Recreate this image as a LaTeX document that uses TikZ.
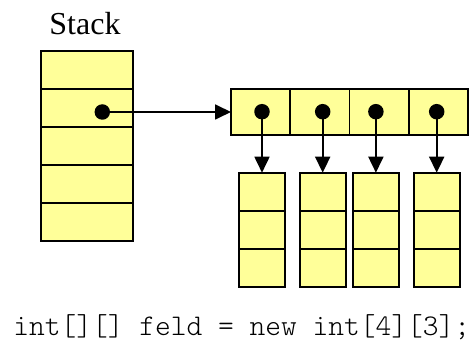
\documentclass[tikz,border=0pt]{standalone}
\usepackage{fontspec}
\setmainfont{Liberation Serif}
\newfontfamily\codefont{lmmonolt10-regular.otf}
\usetikzlibrary{arrows.meta}
\definecolor{cellfill}{HTML}{FFFF99}
\begin{document}
\begin{tikzpicture}[x=1pt,y=-1pt,
  cell/.style={draw=black,fill=cellfill,line width=1.8pt,inner sep=0pt,outer sep=0pt},
  stackcell/.style={cell,minimum width=92pt,minimum height=38.1pt},
  refcell/.style={cell,minimum width=59.2pt,minimum height=46pt},
  intcell/.style={cell,minimum width=46pt,minimum height=38pt},
  dot/.style={circle,fill=black,inner sep=0pt,minimum size=15.5pt},
  ref/.style={line width=1.8pt,-{Triangle[length=16pt,width=15pt]}}]
\useasboundingbox (0,0) rectangle (472,342);

% stack frame
\node[anchor=base,font=\fontsize{32}{32}\selectfont] (title) at (85,35) {Stack};
\foreach \i/\y in {1/69.8,2/107.9,3/146.0,4/184.1,5/222.2}
  \node[stackcell] (s\i) at (87,\y) {};

% outer array of references
\foreach \i/\x in {1/260.6,2/319.8,3/379.0,4/438.2}
  \node[refcell] (a\i) at (\x,112) {};

% inner int arrays
\foreach \i/\x in {1/262,2/322.7,3/375.9,4/436.7}{
  \foreach \j/\y in {1/191.7,2/229.7,3/267.7}
    \node[intcell] (c\i\j) at (\x,\y) {};
  \node[dot] (d\i) at (\x,111.7) {};
}

% stack variable pointing to the outer array
\node[dot] (d0) at (102.3,112) {};
\draw[ref] (d0.center) -- (a1.west);

% references to the inner arrays
\foreach \i in {1,...,4}
  \draw[ref] (d\i.center) -- (c\i1.north);

\node[anchor=base,font=\codefont\fontsize{30}{30}\selectfont] (code) at (241.7,335) {int[][] feld = new int[4][3];};
\end{tikzpicture}
\end{document}
